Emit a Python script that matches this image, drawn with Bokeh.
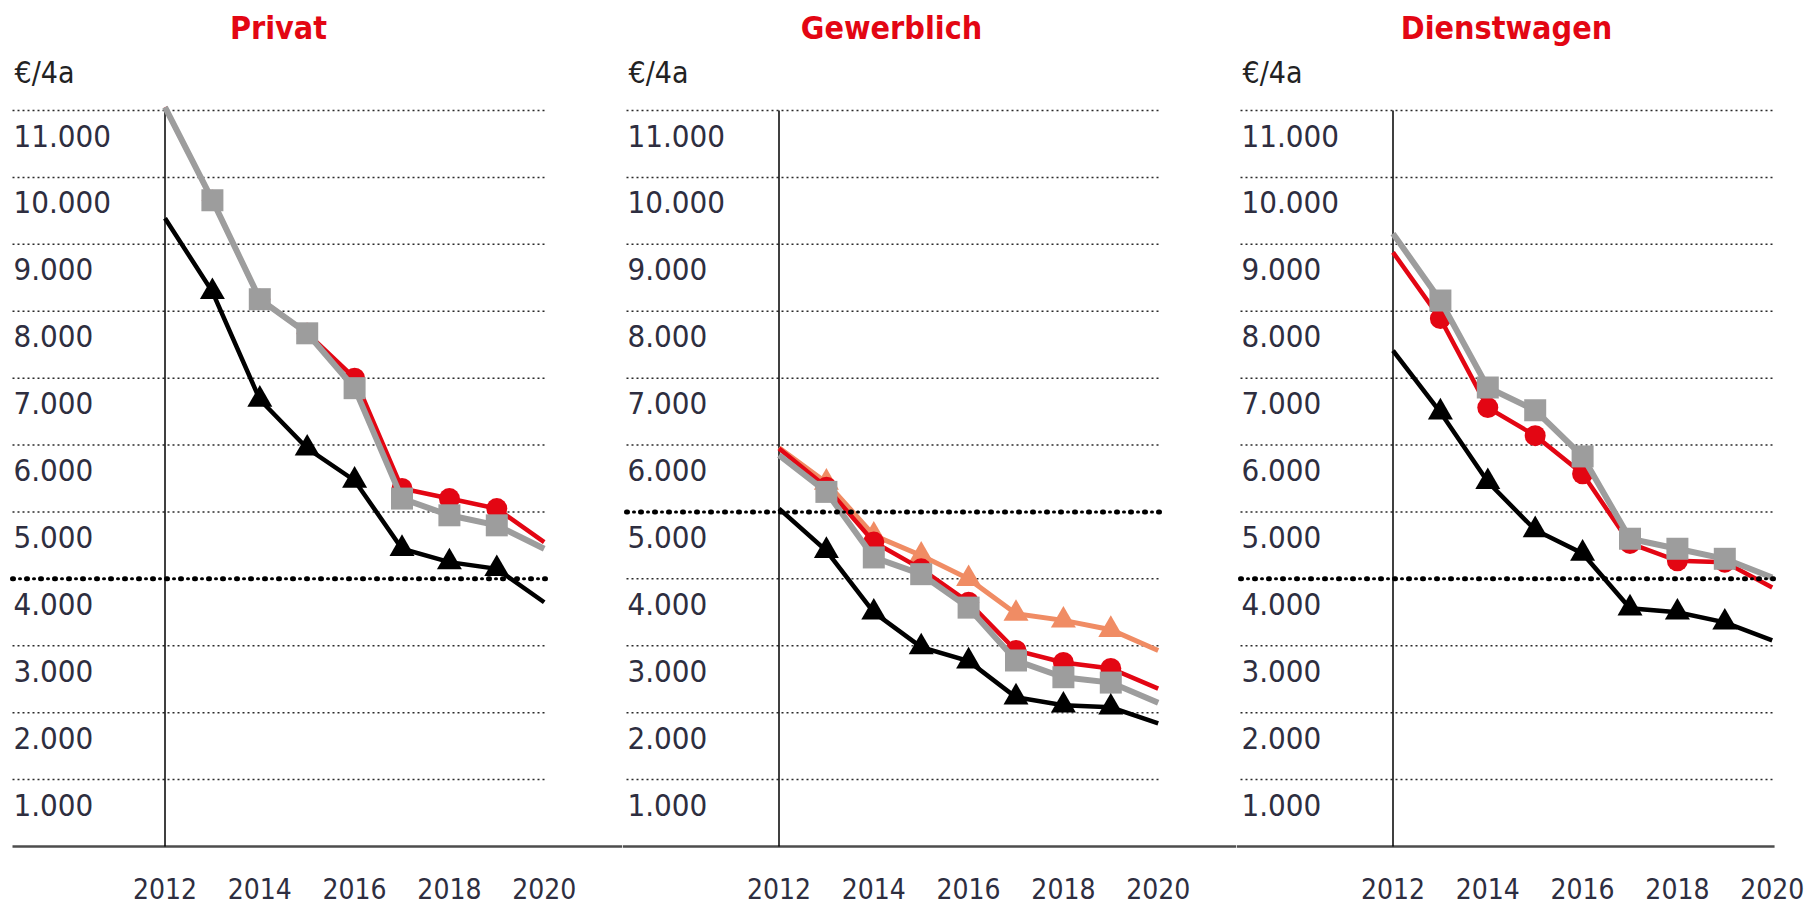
from bokeh.plotting import figure
from bokeh.layouts import row
from bokeh.models import Label
from bokeh.core.properties import value
from bokeh.embed import file_html
from bokeh.resources import INLINE

# ---------------- data ----------------
years = [2012, 2013, 2014, 2015, 2016, 2017, 2018, 2019, 2020]
titles = ["Privat", "Gewerblich", "Dienstwagen"]
unit_label = "€/4a"
y_ticks = [1000, 2000, 3000, 4000, 5000, 6000, 7000, 8000, 9000, 10000, 11000]
y_tick_labels = ["1.000", "2.000", "3.000", "4.000", "5.000", "6.000",
                 "7.000", "8.000", "9.000", "10.000", "11.000"]
x_ticks = [2012, 2014, 2016, 2018, 2020]
x_tick_labels = ["2012", "2014", "2016", "2018", "2020"]

privat_red = [11050, 9660, 8180, 7670, 7000, 5350, 5200, 5050, 4550]
privat_gray = [11050, 9660, 8180, 7670, 6850, 5200, 4950, 4800, 4450]
privat_black = [9390, 8290, 6680, 5950, 5470, 4450, 4250, 4150, 3650]

gewerb_orange = [5960, 5440, 4650, 4350, 4000, 3480, 3380, 3240, 2930]
gewerb_red = [5950, 5370, 4550, 4150, 3650, 2930, 2750, 2660, 2360]
gewerb_gray = [5850, 5300, 4320, 4070, 3570, 2780, 2530, 2450, 2150]
gewerb_black = [5050, 4420, 3500, 2980, 2770, 2230, 2110, 2080, 1840]

dienst_red = [8880, 7890, 6560, 6140, 5570, 4530, 4270, 4250, 3870]
dienst_gray = [9160, 8160, 6860, 6520, 5830, 4600, 4450, 4300, 4020]
dienst_black = [7410, 6490, 5450, 4730, 4380, 3560, 3500, 3350, 3080]

reference_levels = [4000, 5000, 4000]

# ---------------- styles / layout ----------------
FONT = "DejaVu Sans Condensed"
TEXT_COL = "#2e2e40"
STYLES = {
    "orange": dict(color="#f08c64", lw=5, marker="triangle", size=25),
    "red": dict(color="#e30613", lw=4.5, marker="circle", size=21),
    "gray": dict(color="#9d9d9d", lw=6, marker="square", size=22),
    "black": dict(color="#000000", lw=4.5, marker="triangle", size=25),
}
panels = [
    [("red", privat_red), ("gray", privat_gray), ("black", privat_black)],
    [("orange", gewerb_orange), ("red", gewerb_red), ("gray", gewerb_gray), ("black", gewerb_black)],
    [("red", dienst_red), ("gray", dienst_gray), ("black", dienst_black)],
]

H = 910
widths = [622, 614, 570]
x2012_px = [164.5, 156.5, 156.5]   # px from each frame's left edge
left_px = [12, 4, 4]               # where gridlines / tick labels start
title_px = [278, 269, 270]
PX_YEAR = 47.4
PX_UNIT = 66.909 / 1000.0
ZERO_FROM_BOTTOM = 64  # px
y0 = -ZERO_FROM_BOTTOM / PX_UNIT
y1 = y0 + H / PX_UNIT
grid_right = 2020.05
px2y = 1.0 / PX_UNIT

figs = []
for i, W in enumerate(widths):
    x0 = 2012 - x2012_px[i] / PX_YEAR
    x1 = x0 + W / PX_YEAR
    panel_left = x0 + left_px[i] / PX_YEAR
    p = figure(width=W, height=H, x_range=(x0, x1), y_range=(y0, y1),
               x_axis_type=None, y_axis_type=None, toolbar_location=None,
               output_backend="svg", min_border=0, title=None)
    p.outline_line_color = None
    p.background_fill_color = "white"
    p.border_fill_color = "white"

    ref = reference_levels[i]
    g = [t for t in y_ticks if t != ref]
    p.segment(x0=[panel_left] * len(g), y0=g, x1=[grid_right] * len(g), y1=g,
              line_color="#2a2a2a", line_width=1.5, line_dash="2 3")

    # bottom axis line
    ax_left = panel_left if i == 0 else x0
    ax_right = x1 if i < 2 else grid_right
    p.segment(x0=[ax_left], y0=[0], x1=[ax_right], y1=[0], line_color="#4d4d4d", line_width=2.5)
    # vertical line at 2012
    p.segment(x0=[years[0]], y0=[0], x1=[years[0]], y1=[y_ticks[-1]], line_color="black", line_width=1.5)

    # y tick labels (hanging below gridline)
    p.text(x=[panel_left + 1 / PX_YEAR] * len(y_ticks), y=[t - 25 * px2y for t in y_ticks],
           text=y_tick_labels, text_font=value(FONT), text_font_size="31px",
           text_color=TEXT_COL, text_align="left", text_baseline="middle")
    # x tick labels
    p.text(x=x_ticks, y=[-(888 - 846) * px2y] * len(x_ticks), text=x_tick_labels,
           text_font=value(FONT), text_font_size="28px", text_color=TEXT_COL,
           text_align="center", text_baseline="middle")

    for key, vals in panels[i]:
        s = STYLES[key]
        p.line(years, vals, line_color=s["color"], line_width=s["lw"], line_join="miter")
        p.scatter(years[1:-1], vals[1:-1], marker=s["marker"], size=s["size"],
                  fill_color=s["color"], line_color=s["color"], line_width=0)

    # reference level: bold dots with small dots between
    p.segment(x0=[panel_left], y0=[ref], x1=[grid_right], y1=[ref],
              line_color="black", line_width=5, line_dash="1 13", line_cap="round")
    p.segment(x0=[panel_left], y0=[ref], x1=[grid_right], y1=[ref],
              line_color="black", line_width=3, line_dash="1 13", line_dash_offset=7,
              line_cap="round")

    p.add_layout(Label(x=title_px[i], y=H - 27, x_units="screen", y_units="screen", text=titles[i],
                       text_font=FONT, text_font_size="32px", text_font_style="bold",
                       text_color="#e30613", text_align="center", text_baseline="middle"))
    p.add_layout(Label(x=left_px[i] + 2, y=H - 72, x_units="screen", y_units="screen", text=unit_label,
                       text_font=FONT, text_font_size="30px", text_color="#222222",
                       text_align="left", text_baseline="middle"))
    figs.append(p)

layout = row(*figs, spacing=0)
open("out.html", "w").write(file_html(layout, INLINE))
